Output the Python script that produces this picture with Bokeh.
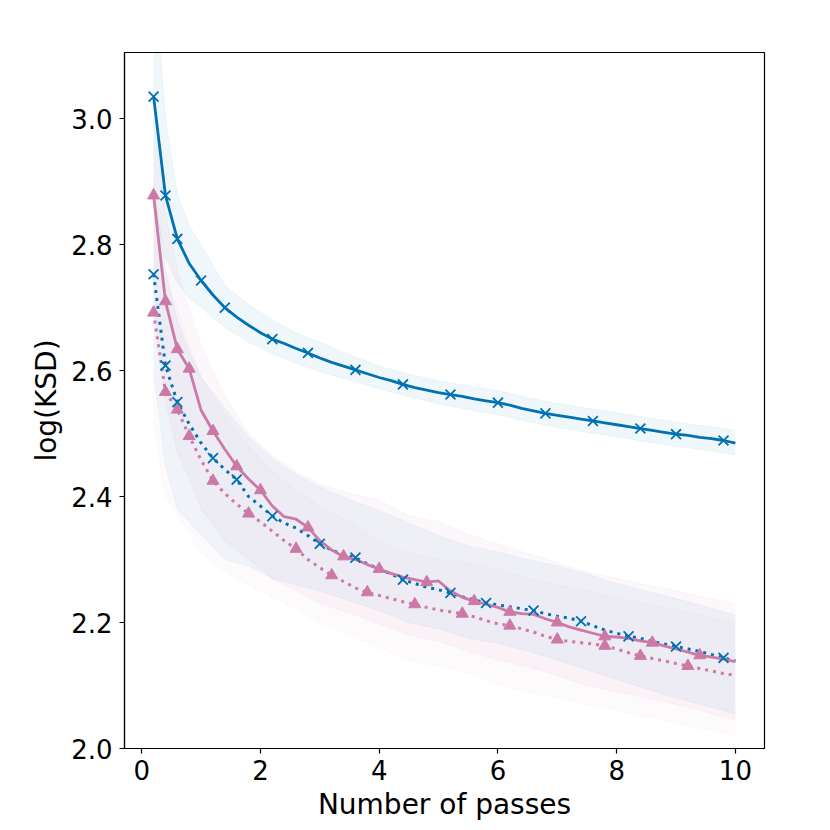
from bokeh.plotting import figure
from bokeh.models import Range1d, FixedTicker, PrintfTickFormatter
from bokeh.embed import file_html
from bokeh.resources import INLINE

# ---------------- data ----------------
passes = [0.2, 0.4, 0.6, 0.8, 1.0, 1.2, 1.4, 1.6, 1.8, 2.0,
          2.2, 2.4, 2.6, 2.8, 3.0, 3.2, 3.4, 3.6, 3.8, 4.0,
          4.2, 4.4, 4.6, 4.8, 5.0, 5.2, 5.4, 5.6, 5.8, 6.0,
          6.2, 6.4, 6.6, 6.8, 7.0, 7.2, 7.4, 7.6, 7.8, 8.0,
          8.2, 8.4, 8.6, 8.8, 9.0, 9.2, 9.4, 9.6, 9.8, 10.0]

blue_solid = [3.035, 2.878, 2.809, 2.770, 2.743, 2.720, 2.700, 2.685, 2.672, 2.660,
              2.650, 2.643, 2.635, 2.628, 2.620, 2.613, 2.607, 2.601, 2.595, 2.589,
              2.584, 2.578, 2.573, 2.569, 2.565, 2.562, 2.559, 2.555, 2.552, 2.549,
              2.545, 2.540, 2.536, 2.532, 2.529, 2.526, 2.523, 2.520, 2.517, 2.514,
              2.511, 2.508, 2.505, 2.502, 2.499, 2.497, 2.494, 2.492, 2.489, 2.485]

blue_dotted = [2.753, 2.608, 2.550, 2.515, 2.485, 2.461, 2.443, 2.427, 2.400, 2.385,
               2.369, 2.358, 2.350, 2.338, 2.325, 2.315, 2.308, 2.303, 2.293, 2.285,
               2.277, 2.268, 2.262, 2.256, 2.252, 2.247, 2.241, 2.236, 2.231, 2.228,
               2.225, 2.222, 2.219, 2.214, 2.210, 2.207, 2.202, 2.195, 2.188, 2.183,
               2.178, 2.175, 2.170, 2.166, 2.162, 2.158, 2.154, 2.149, 2.144, 2.139]

pink_solid = [2.878, 2.710, 2.634, 2.603, 2.537, 2.504, 2.475, 2.448, 2.428, 2.410,
              2.385, 2.368, 2.364, 2.351, 2.330, 2.315, 2.305, 2.300, 2.292, 2.285,
              2.278, 2.272, 2.268, 2.264, 2.266, 2.250, 2.240, 2.234, 2.229, 2.224,
              2.217, 2.214, 2.213, 2.206, 2.200, 2.193, 2.188, 2.183, 2.178, 2.177,
              2.175, 2.171, 2.168, 2.163, 2.158, 2.153, 2.148, 2.145, 2.142, 2.138]

pink_dotted = [2.692, 2.566, 2.538, 2.496, 2.458, 2.425, 2.405, 2.388, 2.373, 2.360,
               2.345, 2.330, 2.317, 2.300, 2.287, 2.275, 2.265, 2.255, 2.248, 2.243,
               2.238, 2.233, 2.229, 2.224, 2.220, 2.217, 2.214, 2.209, 2.203, 2.198,
               2.195, 2.190, 2.185, 2.178, 2.173, 2.170, 2.168, 2.166, 2.163, 2.158,
               2.152, 2.147, 2.143, 2.139, 2.135, 2.131, 2.127, 2.123, 2.119, 2.116]

# shaded spread bands (estimated), on a coarser grid
band_x = [0.2, 0.4, 0.6, 0.8, 1.0, 1.4, 1.8, 2.2, 2.6, 3.0, 3.5, 4.0,
          4.5, 5.0, 5.5, 6.0, 6.5, 7.0, 7.5, 8.0, 8.5, 9.0, 9.5, 10.0]

blue_solid_lo = [2.870, 2.780, 2.740, 2.715, 2.700, 2.668, 2.645, 2.627, 2.612, 2.598, 2.585, 2.571,
                 2.559, 2.547, 2.538, 2.530, 2.519, 2.510, 2.502, 2.495, 2.487, 2.480, 2.474, 2.466]
blue_solid_hi = [3.250, 3.000, 2.880, 2.830, 2.800, 2.735, 2.705, 2.680, 2.660, 2.645, 2.625, 2.607,
                 2.594, 2.584, 2.576, 2.568, 2.557, 2.548, 2.540, 2.533, 2.525, 2.518, 2.512, 2.505]

blue_dotted_lo = [2.600, 2.450, 2.380, 2.360, 2.340, 2.300, 2.290, 2.270, 2.260, 2.250, 2.235, 2.219,
                  2.200, 2.190, 2.175, 2.167, 2.155, 2.140, 2.125, 2.110, 2.095, 2.080, 2.068, 2.055]
blue_dotted_hi = [2.900, 2.760, 2.680, 2.630, 2.590, 2.540, 2.495, 2.460, 2.435, 2.415, 2.395, 2.378,
                  2.358, 2.338, 2.322, 2.312, 2.300, 2.290, 2.277, 2.262, 2.250, 2.238, 2.225, 2.212]

pink_solid_lo = [2.700, 2.550, 2.470, 2.430, 2.380, 2.330, 2.300, 2.270, 2.250, 2.230, 2.215, 2.198,
                 2.180, 2.170, 2.155, 2.140, 2.130, 2.115, 2.100, 2.090, 2.080, 2.070, 2.058, 2.045]
pink_solid_hi = [3.000, 2.850, 2.760, 2.700, 2.640, 2.560, 2.500, 2.465, 2.440, 2.420, 2.405, 2.394,
                 2.370, 2.360, 2.340, 2.325, 2.310, 2.295, 2.280, 2.270, 2.260, 2.250, 2.240, 2.230]

pink_dotted_lo = [2.520, 2.400, 2.370, 2.340, 2.310, 2.280, 2.260, 2.240, 2.220, 2.200, 2.180, 2.160,
                  2.140, 2.130, 2.120, 2.100, 2.090, 2.080, 2.070, 2.060, 2.050, 2.040, 2.030, 2.021]
pink_dotted_hi = [2.870, 2.740, 2.700, 2.640, 2.590, 2.530, 2.480, 2.440, 2.410, 2.385, 2.360, 2.330,
                  2.310, 2.300, 2.295, 2.285, 2.270, 2.260, 2.250, 2.240, 2.230, 2.220, 2.210, 2.200]

# passes at which markers are shown
blue_solid_marks = [0.2, 0.4, 0.6, 1.0, 1.4, 2.2, 2.8, 3.6, 4.4, 5.2, 6.0, 6.8, 7.6, 8.4, 9.0, 9.8]
blue_dotted_marks = [0.2, 0.4, 0.6, 1.2, 1.6, 2.2, 3.0, 3.6, 4.4, 5.2, 5.8, 6.6, 7.4, 8.2, 9.0, 9.8]
pink_solid_marks = [0.2, 0.4, 0.6, 0.8, 1.2, 1.6, 2.0, 2.8, 3.4, 4.0, 4.8, 5.6, 6.2, 7.0, 7.8, 8.6, 9.4]
pink_dotted_marks = [0.2, 0.4, 0.6, 0.8, 1.2, 1.8, 2.6, 3.2, 3.8, 4.6, 5.4, 6.2, 7.0, 7.8, 8.4, 9.2]

x_ticks = [0, 2, 4, 6, 8, 10]
y_ticks = [2.0, 2.2, 2.4, 2.6, 2.8, 3.0]

BLUE = "#0072B2"
PINK = "#CC79A7"
FONT = "DejaVu Sans"

# ---------------- figure ----------------
p = figure(frame_width=640, frame_height=696,
           min_border_left=124, min_border_right=58,
           min_border_top=52, min_border_bottom=74,
           x_range=Range1d(-0.29, 10.49), y_range=Range1d(2.0, 3.105),
           output_backend="svg", toolbar_location=None)
p.background_fill_color = "white"
p.border_fill_color = "white"
p.xgrid.visible = False
p.ygrid.visible = False
p.outline_line_color = "black"
p.outline_line_width = 1.2

# bands
for lo, hi, col, a in [(blue_solid_lo, blue_solid_hi, BLUE, 0.06),
                       (blue_dotted_lo, blue_dotted_hi, BLUE, 0.05),
                       (pink_solid_lo, pink_solid_hi, PINK, 0.06),
                       (pink_dotted_lo, pink_dotted_hi, PINK, 0.04)]:
    p.varea(x=band_x, y1=lo, y2=hi, fill_color=col, fill_alpha=a)
    p.line(band_x, lo, line_color=col, line_alpha=a, line_width=1)
    p.line(band_x, hi, line_color=col, line_alpha=a, line_width=1)


def marks(series, where):
    lookup = dict(zip(passes, series))
    return where, [lookup[w] for w in where]


# lines
p.line(passes, pink_dotted, line_color=PINK, line_width=3, line_dash="3 5")
p.line(passes, blue_dotted, line_color=BLUE, line_width=3, line_dash="3 5")
p.line(passes, pink_solid, line_color=PINK, line_width=2.8)
p.line(passes, blue_solid, line_color=BLUE, line_width=2.8)

mx, my = marks(pink_dotted, pink_dotted_marks)
p.scatter(mx, my, marker="triangle", size=12, fill_color=PINK, line_color=PINK)
mx, my = marks(pink_solid, pink_solid_marks)
p.scatter(mx, my, marker="triangle", size=12, fill_color=PINK, line_color=PINK)
mx, my = marks(blue_dotted, blue_dotted_marks)
p.scatter(mx, my, marker="x", size=14, line_color=BLUE, line_width=1.8)
mx, my = marks(blue_solid, blue_solid_marks)
p.scatter(mx, my, marker="x", size=14, line_color=BLUE, line_width=1.8)

# axes
p.xaxis.ticker = FixedTicker(ticks=x_ticks)
p.yaxis.ticker = FixedTicker(ticks=y_ticks)
p.xaxis.formatter = PrintfTickFormatter(format="%d")
p.yaxis.formatter = PrintfTickFormatter(format="%.1f")
p.xaxis.axis_label = "Number of passes"
p.yaxis.axis_label = "log(KSD)"
for ax in (p.xaxis, p.yaxis):
    ax.axis_line_color = "black"
    ax.axis_line_width = 1.2
    ax.major_tick_line_color = "black"
    ax.major_tick_line_width = 1.2
    ax.major_tick_out = 5
    ax.major_tick_in = 0
    ax.minor_tick_line_color = None
    ax.major_label_text_font = FONT
    ax.major_label_text_font_size = "26px"
    ax.major_label_text_color = "black"
    ax.axis_label_text_font = FONT
    ax.axis_label_text_font_size = "28px"
    ax.axis_label_text_font_style = "normal"
    ax.axis_label_text_color = "black"
p.xaxis.major_label_standoff = 6
p.yaxis.major_label_standoff = 7
p.xaxis.axis_label_standoff = 5
p.yaxis.axis_label_standoff = 5

open("out.html", "w").write(file_html(p, INLINE))
